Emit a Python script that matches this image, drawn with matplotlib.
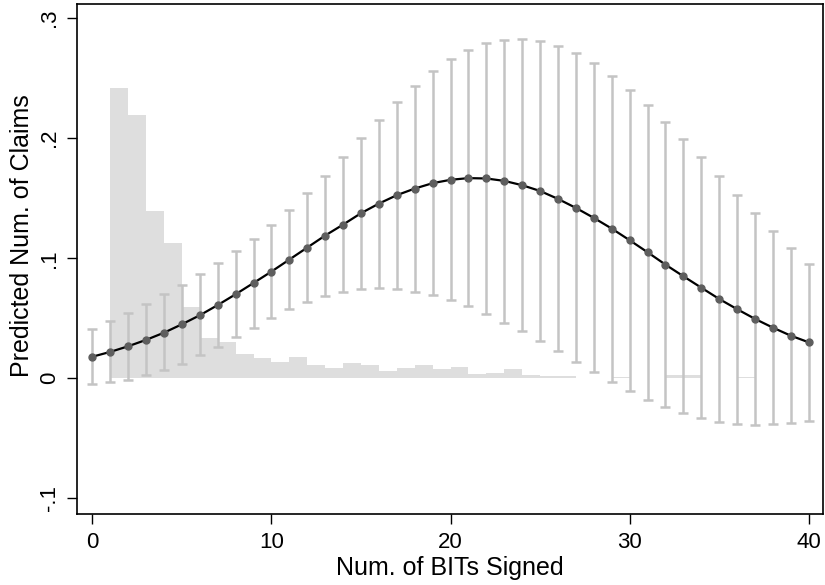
"""Predicted number of claims vs number of BITs signed, with histogram"""
import matplotlib
matplotlib.use('Agg')
import matplotlib.pyplot as plt
import numpy as np

plt.rcParams['font.family'] = ['Liberation Sans', 'DejaVu Sans']

# predicted values and 95% CI at each count of BITs
bits = list(range(0, 41))
pred = [0.018, 0.022, 0.0267, 0.032, 0.038, 0.045, 0.0525, 0.061, 0.070, 0.0794,
        0.0889, 0.0989, 0.1089, 0.1189, 0.128, 0.1375, 0.1455, 0.1525, 0.158, 0.1625,
        0.1653, 0.1667, 0.1664, 0.1644, 0.1608, 0.156, 0.1494, 0.1419, 0.1336, 0.1247,
        0.115, 0.105, 0.0947, 0.085, 0.0755, 0.0661, 0.0576, 0.0495, 0.0422, 0.0355,
        0.030]
ci_hi = [0.041, 0.0475, 0.054, 0.062, 0.070, 0.078, 0.087, 0.096, 0.106, 0.1164,
         0.1278, 0.1405, 0.154, 0.1687, 0.1842, 0.1997, 0.2155, 0.2303, 0.2436, 0.2558,
         0.2658, 0.2736, 0.2792, 0.2819, 0.2828, 0.2808, 0.2767, 0.2706, 0.2622, 0.2519,
         0.2405, 0.2278, 0.2138, 0.1992, 0.1842, 0.1686, 0.153, 0.1378, 0.123, 0.1083,
         0.0948]
ci_lo = [-0.005, -0.0033, -0.001, 0.0025, 0.007, 0.012, 0.019, 0.026, 0.034, 0.042,
         0.050, 0.0575, 0.0637, 0.0688, 0.0722, 0.0744, 0.0753, 0.0744, 0.0722, 0.0694,
         0.065, 0.060, 0.0536, 0.0464, 0.0391, 0.0309, 0.0224, 0.0139, 0.0053, -0.0031,
         -0.0108, -0.018, -0.0242, -0.0292, -0.0331, -0.0361, -0.0378, -0.0385, -0.038,
         -0.037, -0.0352]

# histogram of BITs signed (bins of width 1, left edges 1..39)
hist_left = list(range(1, 40))
hist_height = [0.242, 0.2195, 0.1394, 0.1125, 0.0592, 0.0336, 0.030, 0.020, 0.0167, 0.0133,
               0.0178, 0.0113, 0.0088, 0.013, 0.011, 0.006, 0.0088, 0.0108, 0.0075, 0.0092,
               0.0036, 0.0044, 0.0078, 0.003, 0.0019, 0.0019, 0.0, 0.0, 0.0015, 0.0,
               0.0, 0.0025, 0.0025, 0.0, 0.0, 0.0015, 0.0, 0.0, 0.0]

xticks = [0, 10, 20, 30, 40]
yticks = [-0.1, 0, 0.1, 0.2, 0.3]
ytick_labels = ['-.1', '0', '.1', '.2', '.3']

tick_fs = 16
label_fs = 18

fig = plt.figure(figsize=(8.25, 5.85), facecolor='w', dpi=100)
# axes box: left 77px, right 823px, top 4px, bottom 514px
ax = fig.add_axes([77/825, 1-514/585, 746/825, 510/585])

ax.bar(hist_left, hist_height, width=1.0, align='edge', color='#dedede',
       edgecolor='none', zorder=1)

lo_err = np.array(pred) - np.array(ci_lo)
hi_err = np.array(ci_hi) - np.array(pred)
ax.errorbar(bits, pred, yerr=[lo_err, hi_err], fmt='none', ecolor='#c4c4c4',
            elinewidth=1.8, capsize=3.3, capthick=1.8, zorder=2)
ax.plot(bits, pred, '-', color='k', lw=1.6, zorder=3)
ax.plot(bits, pred, 'o', color='#5e5e5e', ms=5, mec='#5e5e5e', zorder=4)

ax.set_xlim(-0.86, 40.8)
ax.set_ylim(-0.113, 0.3117)

ax.set_xticks(xticks)
ax.set_yticks(yticks)
ax.set_yticklabels(ytick_labels, rotation=90, va='center')
ax.tick_params(axis='both', length=7, width=1.0, direction='out', labelsize=tick_fs)
ax.tick_params(axis='x', pad=6)
ax.tick_params(axis='y', pad=5)

for sp in ax.spines.values():
    sp.set_linewidth(1.2)

ax.set_xlabel("Num. of BITs Signed", fontsize=label_fs)
ax.xaxis.set_label_coords(0.5, -0.083)
ax.set_ylabel("Predicted Num. of Claims", fontsize=label_fs)
ax.yaxis.set_label_coords(-0.058, 0.545)

fig.savefig('out.png', facecolor=fig.get_facecolor(), dpi=100)
